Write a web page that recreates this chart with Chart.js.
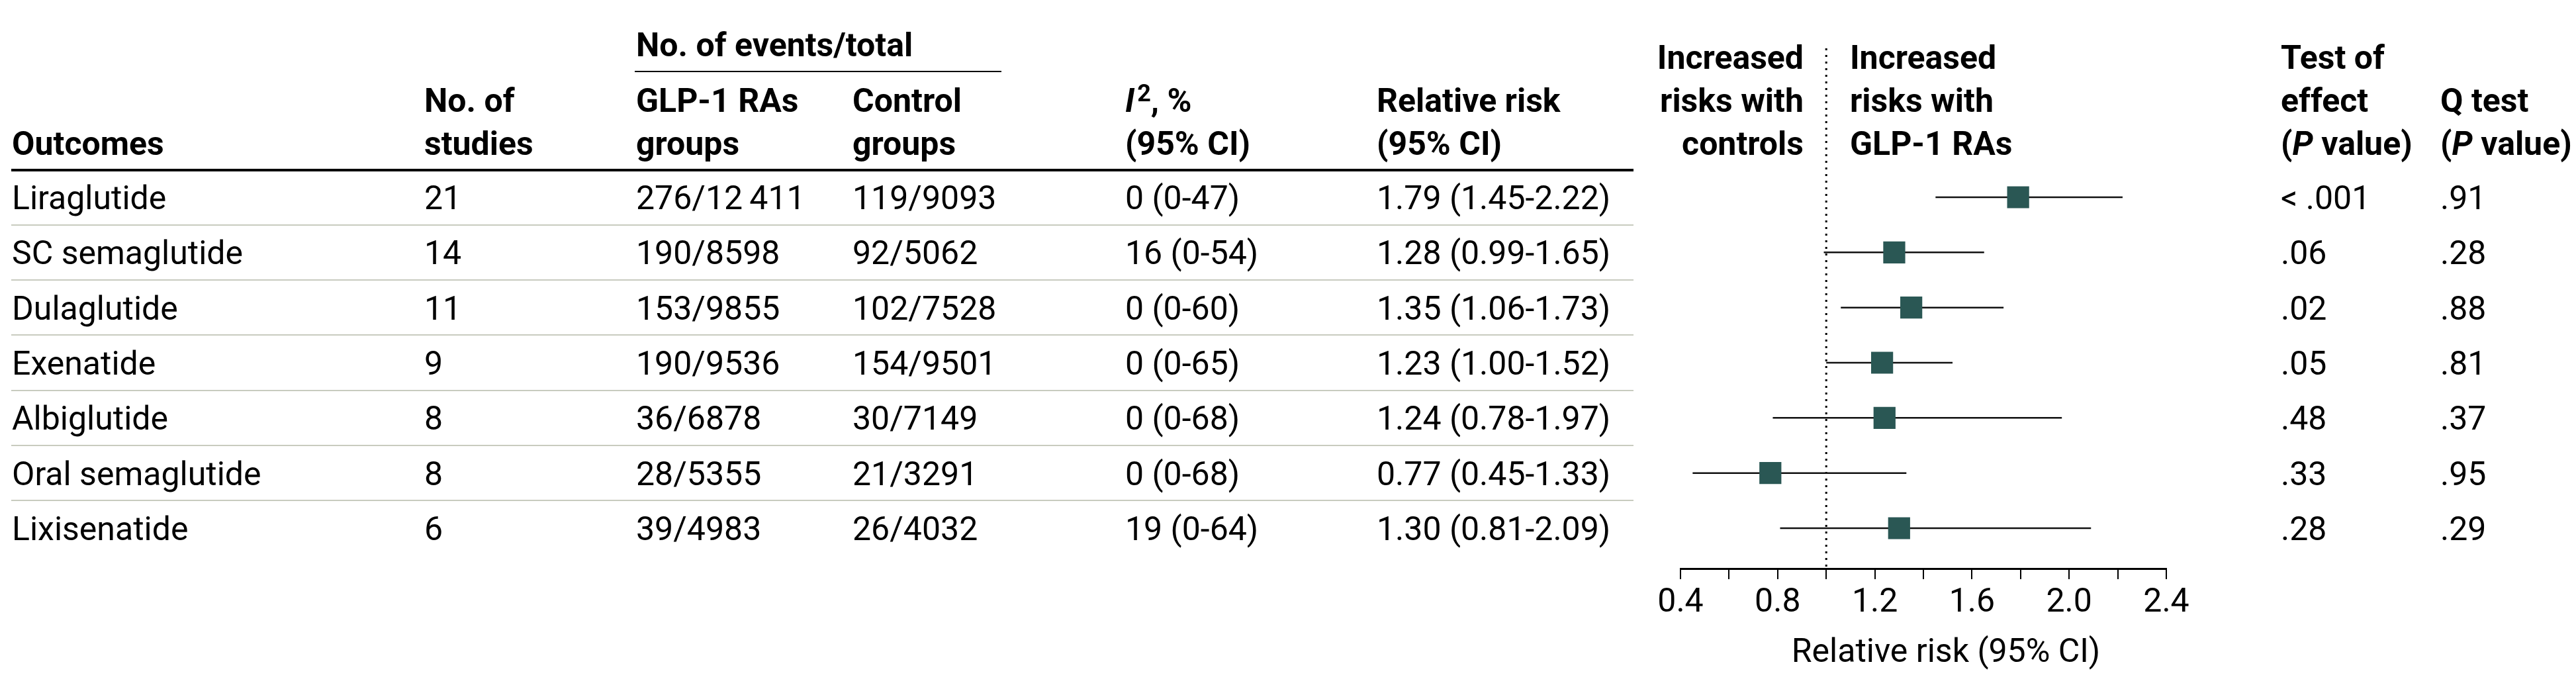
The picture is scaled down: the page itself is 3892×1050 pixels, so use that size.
<!DOCTYPE html>
<html>
<head>
<meta charset="utf-8">
<title>GLP-1 RAs forest plot</title>
<script src="https://cdn.jsdelivr.net/npm/chart.js@4.4.0/dist/chart.umd.min.js"></script>
<style>
  html, body { margin: 0; padding: 0; background: #fff; }
  #wrap { width: 3892px; height: 1050px; }
</style>
</head>
<body>
<div id="wrap"><canvas id="forestChart" width="3892" height="1050"></canvas></div>
<script>
// data
const outcomes = ['Liraglutide', 'SC semaglutide', 'Dulaglutide', 'Exenatide', 'Albiglutide', 'Oral semaglutide', 'Lixisenatide'];
const studies = [21, 14, 11, 9, 8, 8, 6];
const glpEvents = ['276/12\u2009411', '190/8598', '153/9855', '190/9536', '36/6878', '28/5355', '39/4983'];
const controlEvents = ['119/9093', '92/5062', '102/7528', '154/9501', '30/7149', '21/3291', '26/4032'];
const i2 = ['0 (0-47)', '16 (0-54)', '0 (0-60)', '0 (0-65)', '0 (0-68)', '0 (0-68)', '19 (0-64)'];
const rr = [1.79, 1.28, 1.35, 1.23, 1.24, 0.77, 1.30];
const rrLow = [1.45, 0.99, 1.06, 1.00, 0.78, 0.45, 0.81];
const rrHigh = [2.22, 1.65, 1.73, 1.52, 1.97, 1.33, 2.09];
const effectP = ['< .001', '.06', '.02', '.05', '.48', '.33', '.28'];
const qTestP = ['.91', '.28', '.88', '.81', '.37', '.95', '.29'];
const xTickLabels = [0.4, 0.8, 1.2, 1.6, 2.0, 2.4];
const refValue = 1;

// layout
const FONT = 'Roboto';
const SIZE = 50;
const yMin = -2.70, yMax = 6.732;
const colX = { outcome: 18, studies: 641, glp: 961, control: 1288, i2: 1700, rr: 2080, effect: 3446, q: 3687 };
const headBase = [104, 169, 234];
const boxColor = '#2a5754';
const sepColor = '#c8cbbf';

Chart.defaults.font.family = FONT;
Chart.defaults.color = '#000';

function font(weight, style, size) {
    return (style || '') + ' ' + weight + ' ' + (size || SIZE) + 'px ' + FONT;
}

function put(ctx, str, x, y, weight, align, style, size) {
    ctx.font = font(weight, style, size);
    ctx.textAlign = align || 'left';
    ctx.fillText(str, x, y);
    return ctx.measureText(str).width;
}

const tablePlugin = {
    id: 'forestTable',
    afterDraw(chart) {
        const ctx = chart.ctx;
        const ys = chart.scales.y;
        ctx.save();
        ctx.textBaseline = 'alphabetic';
        ctx.fillStyle = '#000';

        // header
        put(ctx, 'No. of events/total', colX.glp, 85, 'bold');
        ctx.fillRect(959, 107, 554, 2);

        put(ctx, 'Outcomes', colX.outcome, headBase[2], 'bold');
        put(ctx, 'No. of', colX.studies, headBase[1], 'bold');
        put(ctx, 'studies', colX.studies, headBase[2], 'bold');
        put(ctx, 'GLP-1 RAs', colX.glp, headBase[1], 'bold');
        put(ctx, 'groups', colX.glp, headBase[2], 'bold');
        put(ctx, 'Control', colX.control, headBase[1], 'bold');
        put(ctx, 'groups', colX.control, headBase[2], 'bold');

        let x = colX.i2;
        x += put(ctx, 'I', x, headBase[1], 'bold', 'left', 'italic');
        x += 4;
        x += put(ctx, '2', x, headBase[1] - 16, 'bold', 'left', '', 36);
        put(ctx, ', %', x, headBase[1], 'bold');
        put(ctx, '(95% CI)', colX.i2, headBase[2], 'bold');

        put(ctx, 'Relative risk', colX.rr, headBase[1], 'bold');
        put(ctx, '(95% CI)', colX.rr, headBase[2], 'bold');

        ['Increased', 'risks with', 'controls'].forEach((s, k) => put(ctx, s, 2725, headBase[k], 'bold', 'right'));
        ['Increased', 'risks with', 'GLP-1 RAs'].forEach((s, k) => put(ctx, s, 2795, headBase[k], 'bold'));

        put(ctx, 'Test of', colX.effect, headBase[0], 'bold');
        put(ctx, 'effect', colX.effect, headBase[1], 'bold');
        put(ctx, 'Q test', colX.q, headBase[1], 'bold');
        [colX.effect, colX.q].forEach(cx => {
            let px = cx;
            px += put(ctx, '(', px, headBase[2], 'bold');
            px += put(ctx, 'P', px, headBase[2], 'bold', 'left', 'italic');
            put(ctx, ' value)', px, headBase[2], 'bold');
        });

        ctx.fillRect(17, 255, 2451, 4);

        // rows
        outcomes.forEach((name, i) => {
            const yc = ys.getPixelForValue(i);
            const b = yc + 18;
            put(ctx, name, colX.outcome, b, 'normal');
            put(ctx, String(studies[i]), colX.studies, b, 'normal');
            put(ctx, glpEvents[i], colX.glp, b, 'normal');
            put(ctx, controlEvents[i], colX.control, b, 'normal');
            put(ctx, i2[i], colX.i2, b, 'normal');
            put(ctx, rr[i].toFixed(2) + ' (' + rrLow[i].toFixed(2) + '-' + rrHigh[i].toFixed(2) + ')', colX.rr, b, 'normal');
            put(ctx, effectP[i], colX.effect, b, 'normal');
            put(ctx, qTestP[i], colX.q, b, 'normal');
            if (i < outcomes.length - 1) {
                const ySep = ys.getPixelForValue(i + 0.5);
                ctx.fillStyle = sepColor;
                ctx.fillRect(17, Math.round(ySep) - 1, 2451, 2);
                ctx.fillStyle = '#000';
            }
        });

        // axis title
        put(ctx, 'Relative risk (95% CI)', 2940, 1000, 'normal', 'center');
        ctx.restore();
    }
};

const datasets = [
    {
        label: 'Relative risk',
        data: rr.map((v, i) => ({ x: v, y: i })),
        pointStyle: 'rect',
        pointRadius: 23.5,
        backgroundColor: boxColor,
        borderWidth: 0,
        showLine: false
    }
];
rr.forEach((v, i) => {
    datasets.push({
        label: outcomes[i] + ' 95% CI',
        data: [{ x: rrLow[i], y: i }, { x: rrHigh[i], y: i }],
        showLine: true,
        borderColor: '#111',
        borderWidth: 2.5,
        pointRadius: 0
    });
});
datasets.push({
    label: 'No effect',
    data: [{ x: refValue, y: yMin }, { x: refValue, y: yMax }],
    showLine: true,
    borderColor: '#000',
    borderWidth: 3,
    borderDash: [3, 7],
    pointRadius: 0
});

new Chart(document.getElementById('forestChart'), {
    type: 'scatter',
    data: { datasets: datasets },
    options: {
        responsive: false,
        maintainAspectRatio: false,
        animation: false,
        layout: { padding: { left: 2539, right: 619, top: 73, bottom: 103 } },
        plugins: {
            legend: { display: false },
            tooltip: { enabled: false }
        },
        scales: {
            x: {
                type: 'linear',
                min: 0.4,
                max: 2.4,
                border: { display: true, color: '#000', width: 3 },
                grid: { drawOnChartArea: false, drawTicks: true, tickLength: 16, color: '#000', lineWidth: 2 },
                ticks: {
                    stepSize: 0.2,
                    padding: 6,
                    maxRotation: 0,
                    autoSkip: false,
                    color: '#000',
                    font: { size: SIZE },
                    callback: v => xTickLabels.some(t => Math.abs(t - v) < 1e-6) ? v.toFixed(1) : ''
                }
            },
            y: {
                type: 'linear',
                reverse: true,
                min: yMin,
                max: yMax,
                display: false
            }
        }
    },
    plugins: [tablePlugin]
});
</script>
</body>
</html>
